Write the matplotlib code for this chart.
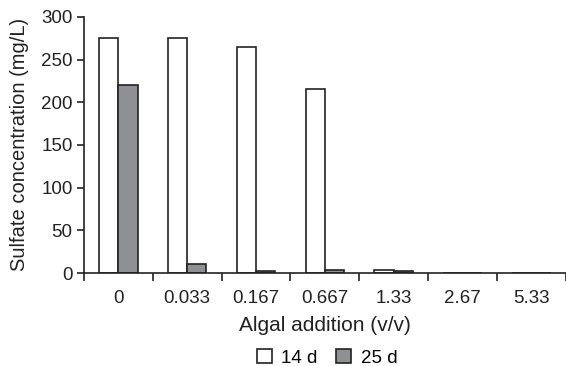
import numpy as np
import matplotlib.pyplot as plt
from matplotlib.patches import Patch

plt.rcParams['font.family'] = ['Liberation Sans', 'DejaVu Sans']

categories = ['0', '0.033', '0.167', '0.667', '1.33', '2.67', '5.33']
d14 = [275, 275, 265, 215, 3, 0, 0]
d25 = [220, 11, 2, 3, 2, 0, 0]

fig = plt.figure(figsize=(5.66, 3.66), dpi=100)
ax = fig.add_axes([0.148, 0.254, 0.852, 0.70])

x = np.arange(len(categories))
w = 0.28
ax.bar(x - w/2, d14, w, color='white', edgecolor='#222222', linewidth=1.2, label='14 d')
ax.bar(x + w/2, d25, w, color='#8f9094', edgecolor='#222222', linewidth=1.2, label='25 d')

ax.set_xlim(-0.5, len(categories) - 0.5)
ax.set_ylim(0, 300)
ax.set_yticks(range(0, 301, 50))
ax.set_xticks(x)
ax.set_xticklabels(categories)
ax.set_xticks(np.arange(-0.5, len(categories)), minor=True)
ax.tick_params(axis='x', which='major', length=0, pad=12, labelsize=13.5, colors='#222222')
ax.tick_params(axis='x', which='minor', length=6, width=1.2, color='#222222')
ax.tick_params(axis='y', length=5, width=1.2, pad=3, labelsize=13.5, colors='#222222')

for s in ['top', 'right']:
    ax.spines[s].set_visible(False)
for s in ['left', 'bottom']:
    ax.spines[s].set_color('#222222')
    ax.spines[s].set_linewidth(1.2)

ax.set_ylabel('Sulfate concentration (mg/L)', fontsize=14.5, color='#222222', labelpad=9)
ax.set_xlabel('Algal addition (v/v)', fontsize=15, color='#222222', labelpad=7)

handles = [Patch(facecolor='white', edgecolor='#222222', linewidth=1.2),
           Patch(facecolor='#8f9094', edgecolor='#222222', linewidth=1.2)]
fig.legend(handles, ['14 d', '25 d'], loc='center', bbox_to_anchor=(0.578, 0.022),
           ncol=2, frameon=False, fontsize=13.5, handlelength=0.8, handleheight=0.8,
           handletextpad=0.5, columnspacing=1.0, borderpad=0)

fig.savefig('out.png', dpi=100)
